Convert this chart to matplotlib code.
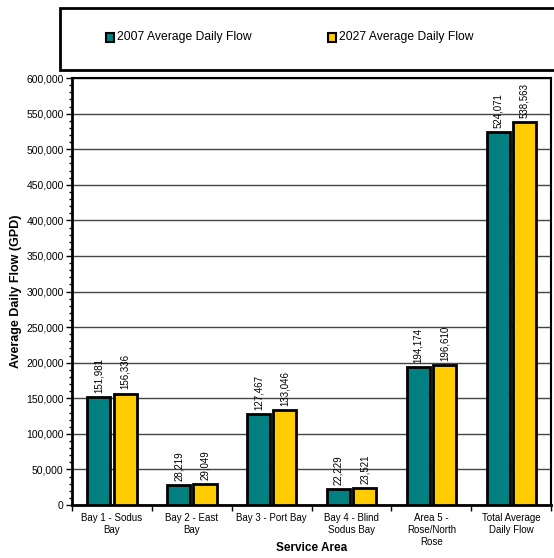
import matplotlib
matplotlib.use("Agg")
import matplotlib.pyplot as plt
from matplotlib.patches import Rectangle
from matplotlib.ticker import MultipleLocator, FuncFormatter
import numpy as np

plt.rcParams['font.family'] = ['Liberation Sans', 'DejaVu Sans']

categories = ["Bay 1 - Sodus\nBay", "Bay 2 - East\nBay", "Bay 3 - Port Bay",
              "Bay 4 - Blind\nSodus Bay", "Area 5 -\nRose/North\nRose",
              "Total Average\nDaily Flow"]
flow_2007 = [151981, 28219, 127467, 22229, 194174, 524071]
flow_2027 = [156336, 29049, 133046, 23521, 196610, 538563]
series_names = ["2007 Average Daily Flow", "2027 Average Daily Flow"]
colors = ["#008080", "#FFCC00"]

fig = plt.figure(figsize=(5.54, 5.58), dpi=100)
ax = fig.add_axes([0.130, 0.095, 0.865, 0.765])

x = np.arange(len(categories))
w = 0.29
off = 0.165
for vals, c, o, name in [(flow_2007, colors[0], -off, series_names[0]),
                         (flow_2027, colors[1], off, series_names[1])]:
    ax.bar(x + o, vals, width=w, color=c, edgecolor='black', linewidth=2, zorder=3, label=name)
    for xi, v in zip(x + o, vals):
        ax.text(xi, v + 6000, f"{v:,}", rotation=90, ha='center', va='bottom', fontsize=7, zorder=4)

ax.set_xlim(-0.5, 5.5)
ax.set_ylim(0, 600000)
ax.yaxis.set_major_locator(MultipleLocator(50000))
ax.yaxis.set_minor_locator(MultipleLocator(10000))
ax.yaxis.set_major_formatter(FuncFormatter(lambda v, p: f"{int(v):,}"))
ax.tick_params(axis='y', which='major', length=4, width=1, labelsize=7.5, direction='out', pad=2)
ax.tick_params(axis='y', which='minor', length=2, width=1, direction='out')
ax.set_xticks(x)
ax.set_xticklabels(categories, fontsize=7)
ax.tick_params(axis='x', which='major', length=0, pad=6)
ax.set_xticks(np.arange(-0.5, 6.0, 1.0), minor=True)
ax.tick_params(axis='x', which='minor', length=4, width=1, direction='out')
ax.grid(axis='y', which='major', color='#444444', linewidth=1, zorder=0)
for s in ax.spines.values():
    s.set_linewidth(1.5)
ax.spines['left'].set_linewidth(2)
ax.spines['bottom'].set_linewidth(2)

ax.set_ylabel("Average Daily Flow (GPD)", fontsize=9, fontweight='bold', labelpad=3)
ax.set_xlabel("Service Area", fontsize=8.5, fontweight='bold', labelpad=-3)

# legend box
fig.patches.append(Rectangle((0.108, 0.8746), 0.95, 0.111, transform=fig.transFigure,
                             facecolor='white', edgecolor='black', linewidth=2, clip_on=False))
for lx, name, c in [(0.2112, series_names[0], colors[0]), (0.6118, series_names[1], colors[1])]:
    fig.patches.append(Rectangle((lx - 0.0195, 0.933 - 0.0075), 0.014, 0.015, transform=fig.transFigure,
                                 facecolor=c, edgecolor='black', linewidth=1.5))
    fig.text(lx, 0.933, name, fontsize=8.7, va='center', ha='left')

fig.savefig("out.png", dpi=100)
